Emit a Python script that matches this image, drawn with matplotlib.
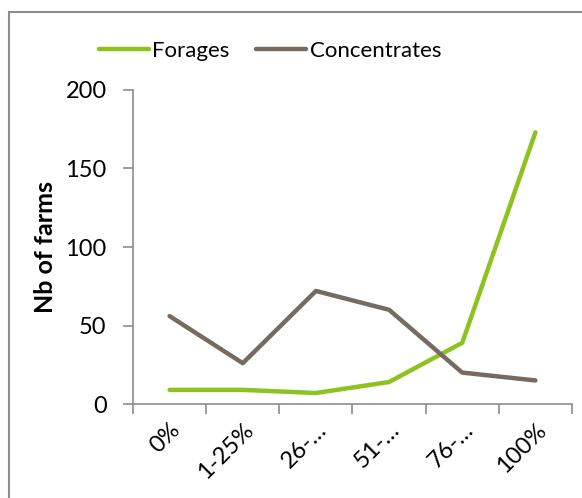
import matplotlib.pyplot as plt
from matplotlib.patches import Rectangle

plt.rcParams['font.family'] = ['Lato', 'DejaVu Sans']

categories = ['0%', '1-25%', '26-…', '51-…', '76-…', '100%']
forages = [9, 9, 7, 14, 39, 173]
concentrates = [56, 26, 72, 60, 20, 15]

green = '#8DC21F'
brown = '#756B5F'
axis_grey = '#8C8C8C'

fig = plt.figure(figsize=(5.82, 4.98), dpi=100)
ax = fig.add_axes([133 / 582, 1 - 404 / 498, (572 - 133) / 582, (404 - 90) / 498])

x = list(range(len(categories)))
ax.plot(x, forages, color=green, lw=3.2, solid_capstyle='round', solid_joinstyle='round', label='Forages')
ax.plot(x, concentrates, color=brown, lw=3.2, solid_capstyle='round', solid_joinstyle='round', label='Concentrates')

ax.set_xlim(-0.5, len(categories) - 0.5)
ax.set_ylim(0, 200)
ax.set_yticks([0, 50, 100, 150, 200])
ax.set_xticks([i - 0.5 for i in range(len(categories) + 1)])
ax.set_xticklabels([])
ax.set_xticks(x, minor=True)
ax.set_xticklabels(categories, minor=True, rotation=45, ha='right', va='top',
                   rotation_mode='anchor', fontsize=17)
ax.tick_params(axis='x', which='minor', length=0, pad=11)
ax.tick_params(axis='x', which='major', length=7, color=axis_grey, width=1.2)
ax.tick_params(axis='y', length=7, color=axis_grey, width=1.2, labelsize=17, pad=12)

for s in ['top', 'right']:
    ax.spines[s].set_visible(False)
for s in ['left', 'bottom']:
    ax.spines[s].set_color(axis_grey)
    ax.spines[s].set_linewidth(1.2)

ax.set_ylabel('Nb of farms', fontsize=18, fontweight='bold', labelpad=6)

fig.legend(loc='center', bbox_to_anchor=(270 / 582, 1 - 51 / 498), ncol=2, frameon=False,
           fontsize=16, handlelength=2.25, handletextpad=0.15, columnspacing=1.2)

fig.patches.append(Rectangle((9 / 582, -0.05), 1.0, 1 - 12 / 498 + 0.05, transform=fig.transFigure,
                             fill=False, edgecolor='#8C8C8C', lw=1.5))

fig.savefig('out.png', dpi=100)
